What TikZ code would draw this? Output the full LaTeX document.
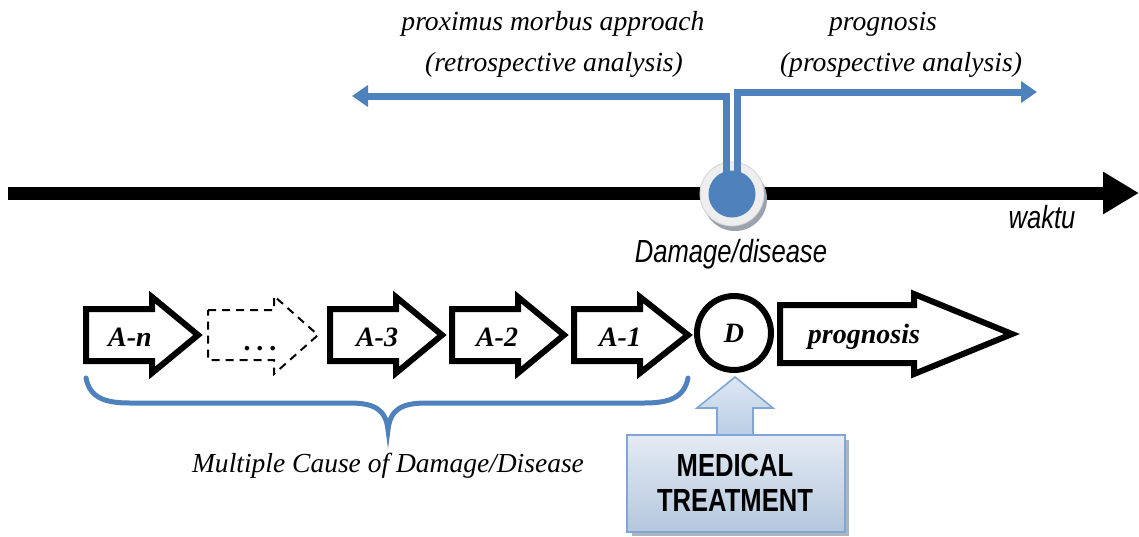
\documentclass[tikz,border=0pt]{standalone}
\usepackage{fontspec}
\usetikzlibrary{arrows.meta,calc}
\newfontfamily\narrowsans[FakeStretch=0.8]{Liberation Sans}
\newfontfamily\labserif{Liberation Serif}
\definecolor{officeblue}{HTML}{4F81BD}
\definecolor{ringgray}{HTML}{EEEEEE}
\definecolor{shadegray}{HTML}{9AA3AD}
\definecolor{boxlight}{HTML}{E4EBF4}
\definecolor{boxdark}{HTML}{B4C7DD}
\definecolor{boxedge}{HTML}{7FA6D6}
\definecolor{arrowlight}{HTML}{DDE7F3}
\definecolor{arrowdark}{HTML}{B9CDE5}

% block arrow pointing right: [style] {left x}{head base x}{tip x}{centre y}{half body}{half head}
\newcommand\blockarrow[7][]{%
  \draw[#1] (#2,#5-#6) -- (#3,#5-#6) -- (#3,#5-#7) -- (#4,#5)
        -- (#3,#5+#7) -- (#3,#5+#6) -- (#2,#5+#6) -- cycle;}

\begin{document}
\begin{tikzpicture}[x=0.5pt,y=-0.5pt,
  timeline/.style={line width=6.5pt,-{Triangle[length=18pt,width=20pt]}},
  bluearrow/.style={officeblue,line width=3.5pt,-{Triangle[length=8pt,width=10.5pt]}},
  causebox/.style={draw=black,line width=3pt,fill=white,line join=miter},
  ghostbox/.style={draw=black,line width=1pt,dashed,dash pattern=on 4pt off 3pt},
  steplabel/.style={font=\labserif\bfseries\itshape\fontsize{14}{16}\selectfont},
  topnote/.style={font=\labserif\itshape\fontsize{13.8}{17}\selectfont,align=center},
  sansnote/.style={font=\narrowsans\itshape\fontsize{16}{18}\selectfont},
  brace/.style={officeblue,line width=2.5pt,line cap=round},
  treatbox/.style={draw=boxedge,line width=1pt,top color=boxlight,bottom color=boxdark},
  treatarrow/.style={draw=boxedge,line width=0.8pt,top color=arrowlight,bottom color=arrowdark}]
\useasboundingbox (0,0) rectangle (1139,536);

% time axis
\coordinate (t0) at (8,193);
\coordinate (t1) at (1139,193);
\draw[timeline] (t0) -- (t1);
\node[sansnote] (waktu) at (1042,217) {waktu};

% damage point on the axis
\node[circle,fill=shadegray,minimum size=32pt,inner sep=0] (dshadow) at (735,199) {};
\node[circle,fill=ringgray,draw=gray!35,line width=0.4pt,minimum size=32pt,inner sep=0] (dring) at (732,194) {};
\coordinate (lend) at (352,96);
\coordinate (rend) at (1037,92);
\draw[bluearrow] ([xshift=-2.75pt]dring.center) |- (lend);
\draw[bluearrow] ([xshift=2.75pt]dring.center) |- (rend);
\node[circle,fill=officeblue,minimum size=23.5pt,inner sep=0] (ddisk) at (732,194) {};
\node[sansnote] (dlabel) at (731,254) {Damage/disease};

% retrospective / prospective notes
\node[topnote] (retro1) at (553,24) {proximus morbus approach};
\node[topnote] (retro2) at (554,65) {(retrospective analysis)};
\node[topnote] (pro1) at (883,24) {prognosis};
\node[topnote] (pro2) at (901,65) {(prospective analysis)};

% chain of causes
\blockarrow[causebox]{86}{152}{198}{335}{26}{38}
\blockarrow[ghostbox]{208}{274}{318}{335}{25}{39}
\blockarrow[causebox]{330}{396}{442}{335}{26}{38}
\blockarrow[causebox]{452}{518}{564}{335}{26}{38}
\blockarrow[causebox]{574}{640}{688}{335}{26}{38}
\blockarrow[causebox]{780}{914}{1012}{334}{29}{40}
\node[steplabel] (an) at (130,337) {A-n};
\node[steplabel,anchor=base] (dots) at (261,350) {.\hspace{3pt}.\hspace{3pt}.};
\node[steplabel] (a3) at (377,337) {A-3};
\node[steplabel] (a2) at (497,337) {A-2};
\node[steplabel] (a1) at (620,337) {A-1};
\node[steplabel] (prog) at (864,337) {prognosis};
\node[draw=black,line width=3pt,circle,minimum size=37pt,inner sep=0,steplabel] (D) at (734,333) {D};

% brace under the causes
\coordinate (bl) at (86,378);
\coordinate (br) at (688,378);
\coordinate (bm) at (388,430);
\draw[brace] (bl) .. controls (90,398) and (105,403) .. (130,403)
  -- (350,403) .. controls (375,403) and (386,410) .. (bm)
  .. controls (390,410) and (401,403) .. (426,403)
  -- (644,403) .. controls (669,403) and (684,398) .. (br);
\node[font=\labserif\itshape\fontsize{13.75}{16}\selectfont] (causes) at (388,466) {Multiple Cause of Damage/Disease};

% medical treatment
\draw[treatarrow] (735,377) -- (773,408) -- (753,408) -- (753,437)
  -- (717,437) -- (717,408) -- (697,408) -- cycle;
\fill[shadegray,opacity=0.8] (632,440) rectangle (849,536);
\draw[treatbox] (627,435) rectangle (845,532);
\node[font=\narrowsans\bfseries\fontsize{16}{17.5}\selectfont,align=center] (mt) at (735,483) {MEDICAL\\TREATMENT};
\end{tikzpicture}
\end{document}
